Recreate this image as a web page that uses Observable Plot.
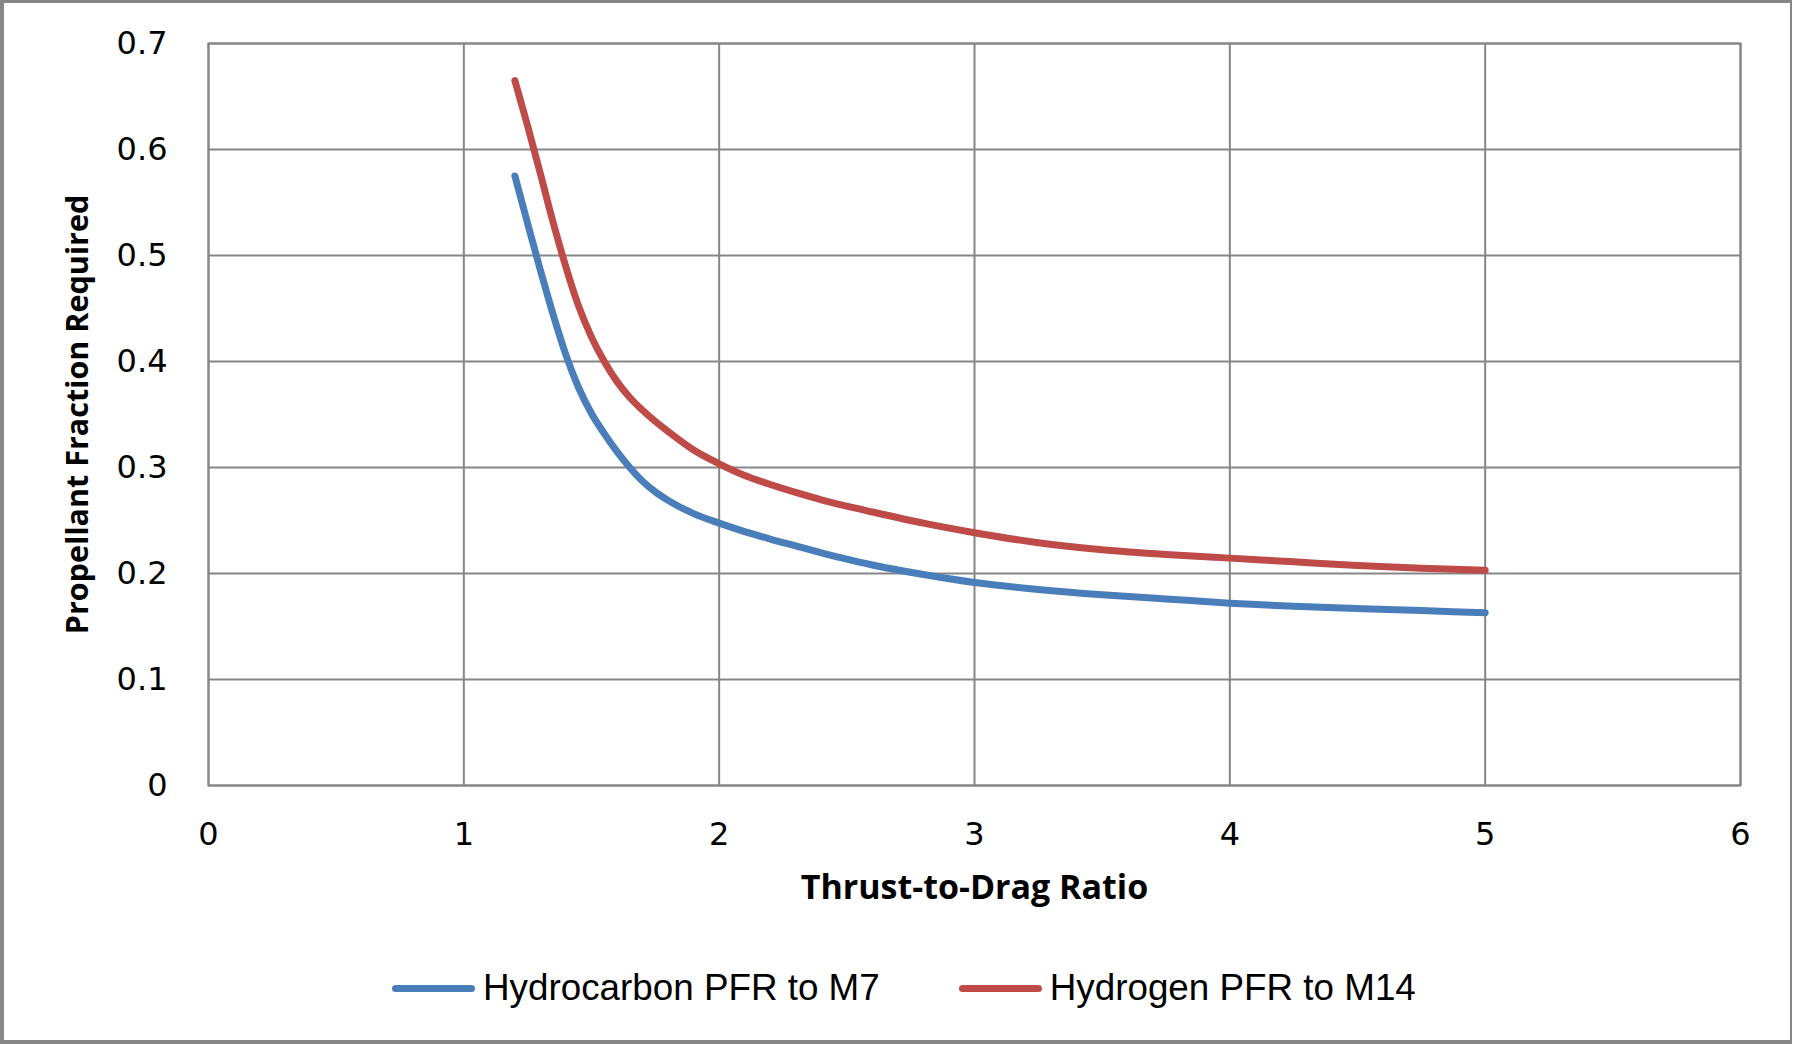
<!DOCTYPE html>
<html>
<head>
<meta charset="utf-8">
<script src="https://cdn.jsdelivr.net/npm/d3@7"></script>
<script src="https://cdn.jsdelivr.net/npm/@observablehq/plot@0.6"></script>
<style>
  html, body { margin: 0; padding: 0; background: #fff; }
  #wrap { position: relative; width: 1794px; height: 1044px; overflow: hidden; background: #fff; }
  #border { position: absolute; left: 0; top: 0; width: 1792px; height: 1044px; box-sizing: border-box;
            border-left: 4px solid #868686; border-top: 3px solid #868686; border-right: 2px solid #868686; border-bottom: 4px solid #868686; pointer-events: none; }
  #legend { position: absolute; left: 392px; top: 968px; height: 40px; display: flex; align-items: center;
            font-family: "Liberation Sans", Arial, sans-serif; font-size: 36.8px; color: #000; }
  .item { display: flex; align-items: center; }
  .sw { width: 83px; height: 7px; border-radius: 4px; margin-right: 8px; }
</style>
</head>
<body>
<div id="wrap">
  <div id="chart"></div>
  <div id="legend"></div>
  <div id="border"></div>
</div>
<script>
const seriesNames = ["Hydrocarbon PFR to M7", "Hydrogen PFR to M14"];
const seriesColors = ["#4A7EBB", "#BE4B48"];
const ratio = [1.2, 1.25, 1.3, 1.35, 1.4, 1.45, 1.5, 1.55, 1.6, 1.65, 1.7, 1.75, 1.8, 1.9, 2.0, 2.1, 2.2, 2.3, 2.4, 2.5, 2.6, 2.8, 3.0, 3.25, 3.5, 3.75, 4.0, 4.25, 4.5, 4.75, 5.0];
const hydrocarbon = [0.575, 0.530, 0.486, 0.444, 0.406, 0.375, 0.351, 0.332, 0.315, 0.300, 0.287, 0.277, 0.269, 0.2565, 0.2475, 0.2395, 0.2325, 0.226, 0.2195, 0.2135, 0.208, 0.199, 0.1915, 0.185, 0.180, 0.176, 0.172, 0.169, 0.167, 0.165, 0.163];
const hydrogen =    [0.665, 0.622, 0.577, 0.531, 0.489, 0.452, 0.423, 0.400, 0.381, 0.366, 0.354, 0.3435, 0.334, 0.3165, 0.3035, 0.2925, 0.284, 0.2765, 0.2695, 0.2635, 0.258, 0.2475, 0.2385, 0.229, 0.2225, 0.218, 0.2145, 0.211, 0.2075, 0.205, 0.203];
const xTicks = [0, 1, 2, 3, 4, 5, 6];
const yTicks = [0, 0.1, 0.2, 0.3, 0.4, 0.5, 0.6, 0.7];
const xLabel = "Thrust-to-Drag Ratio";
const yLabel = "Propellant Fraction Required";

const rows = [];
[hydrocarbon, hydrogen].forEach((vals, s) => {
  vals.forEach((v, i) => rows.push({series: seriesNames[s], x: ratio[i], y: v}));
});

const grid = "#868686";
const chart = Plot.plot({
  width: 1794,
  height: 930,
  marginLeft: 208,
  marginRight: 54,
  marginTop: 43,
  marginBottom: 145,
  style: {background: "transparent", overflow: "visible"},
  x: {domain: [0, 6], ticks: xTicks},
  y: {domain: [0, 0.7], ticks: yTicks},
  color: {domain: seriesNames, range: seriesColors},
  marks: [
    Plot.gridX(xTicks, {stroke: grid, strokeOpacity: 1, strokeWidth: 2}),
    Plot.gridY(yTicks, {stroke: grid, strokeOpacity: 1, strokeWidth: 2}),
    Plot.frame({stroke: grid, strokeWidth: 2}),
    Plot.axisX(xTicks, {tickSize: 0, tickPadding: 37, label: null, fontSize: 32, fontFamily: "DejaVu Sans", tickFormat: d => String(d), fill: "#000"}),
    Plot.axisY(yTicks, {tickSize: 0, tickPadding: 41, label: null, fontSize: 32, fontFamily: "DejaVu Sans", tickFormat: d => String(d), fill: "#000"}),
    Plot.line(rows, {x: "x", y: "y", z: "series", stroke: "series", strokeWidth: 7, curve: "monotone-x", strokeLinecap: "round"}),
    Plot.text([xLabel], {frameAnchor: "bottom", lineAnchor: "middle", textAnchor: "middle", dy: 103, fontSize: 34, fontWeight: "bold", fontFamily: "Open Sans", fill: "#000"}),
    Plot.text([yLabel], {frameAnchor: "left", lineAnchor: "middle", textAnchor: "middle", dx: -130, rotate: -90, fontSize: 30.5, fontWeight: "bold", fontFamily: "Open Sans", fill: "#000"})
  ]
});
document.getElementById("chart").appendChild(chart);

const legend = document.getElementById("legend");
seriesNames.forEach((name, i) => {
  const item = document.createElement("div");
  item.className = "item";
  if (i > 0) item.style.marginLeft = "79px";
  const sw = document.createElement("div");
  sw.className = "sw";
  sw.style.background = seriesColors[i];
  const t = document.createElement("span");
  t.textContent = name;
  item.appendChild(sw);
  item.appendChild(t);
  legend.appendChild(item);
});
</script>
</body>
</html>
